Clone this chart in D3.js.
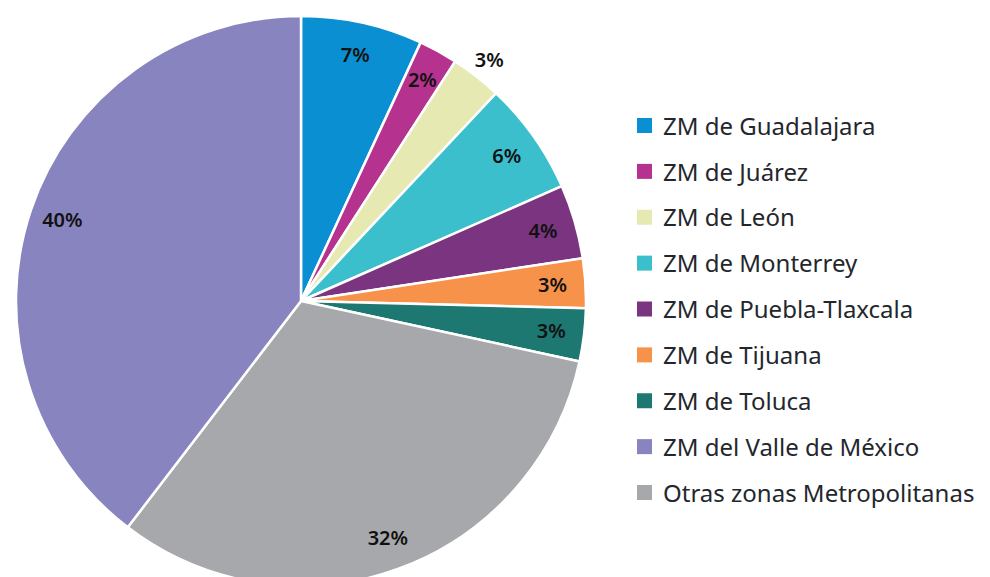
<!DOCTYPE html>
<html><head><meta charset="utf-8">
<script src="https://cdn.jsdelivr.net/npm/d3@7"></script>
<style>body{margin:0;background:#fff}svg{display:block}</style>
</head><body>
<svg id="c" width="990" height="577"></svg>
<script>
const categories = ["ZM de Guadalajara","ZM de Juárez","ZM de León","ZM de Monterrey","ZM de Puebla-Tlaxcala","ZM de Tijuana","ZM de Toluca","Otras zonas Metropolitanas","ZM del Valle de México"];
const values = [6.9, 2.2, 2.9, 6.4, 4.2, 2.8, 3.0, 32.0, 39.6];
const colors = ["#0a8fd2","#b5338f","#e6e9b1","#3bbfcc","#7b347f","#f7924a","#1d7872","#a7a8ab","#8784bf"];
const legendOrder = ["ZM de Guadalajara","ZM de Juárez","ZM de León","ZM de Monterrey","ZM de Puebla-Tlaxcala","ZM de Tijuana","ZM de Toluca","ZM del Valle de México","Otras zonas Metropolitanas"];
const outsideLabels = ["ZM de León"];

const svg = d3.select("#c");
const cx = 301, cy = 301, R = 285;
const color = d3.scaleOrdinal().domain(categories).range(colors);
const data = categories.map((c,i)=>({cat:c, v:values[i]}));
const pie = d3.pie().value(d=>d.v).sort(null);
const arcs = pie(data);
const arc = d3.arc().innerRadius(0).outerRadius(R);
const lblIn = d3.arc().innerRadius(252).outerRadius(252);
const lblOut = d3.arc().innerRadius(306).outerRadius(306);

const g = svg.append("g").attr("transform",`translate(${cx},${cy})`);
g.selectAll("path").data(arcs).join("path")
  .attr("d",arc).attr("fill",d=>color(d.data.cat))
  .attr("stroke","#fff").attr("stroke-width",2.5).attr("stroke-linejoin","round");
g.selectAll("text").data(arcs).join("text")
  .attr("transform",d=>`translate(${(outsideLabels.includes(d.data.cat)?lblOut:lblIn).centroid(d)})`)
  .attr("text-anchor","middle").attr("dy","0.36em")
  .attr("font-family","'Noto Sans', sans-serif").attr("font-weight",600).attr("font-size",20)
  .attr("fill","#111")
  .text(d=>Math.round(d.data.v)+"%");

const lg = svg.append("g").attr("transform","translate(637,0)");
const y = d3.scalePoint().domain(legendOrder).range([126,493]);
const items = lg.selectAll("g").data(legendOrder).join("g").attr("transform",d=>`translate(0,${y(d)})`);
items.append("rect").attr("x",0).attr("y",-8).attr("width",15).attr("height",15).attr("fill",d=>color(d));
items.append("text").attr("x",26).attr("dy","0.36em")
  .attr("font-family","'Noto Sans', sans-serif").attr("font-size",24).attr("fill","#23272d")
  .text(d=>d);
</script>
</body></html>
